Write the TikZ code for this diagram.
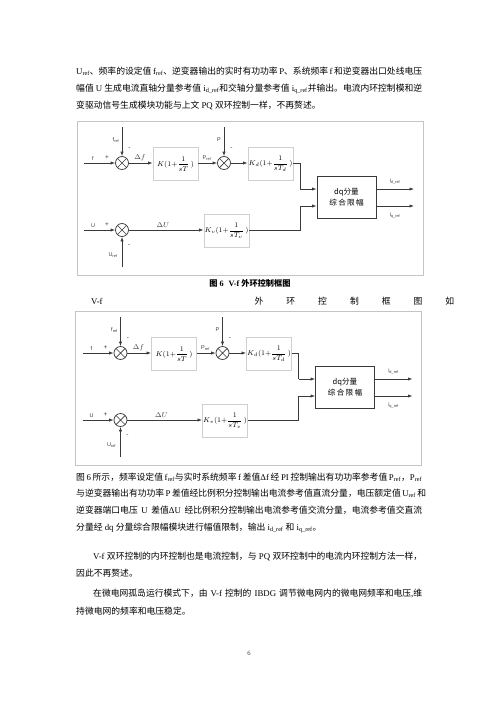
\documentclass[tikz,border=0pt]{standalone}
\usepackage{amsmath}
\usepackage{fontspec}
\setmainfont{Liberation Serif}
\newfontfamily\cjk{Noto Sans CJK SC}
\newfontfamily\lab{Liberation Sans}
\usetikzlibrary{arrows.meta}
\XeTeXlinebreaklocale "zh"
\XeTeXlinebreakskip=0pt plus 3pt
\newcommand\z[1]{{\cjk #1}}
\newcommand\jline[2]{\makebox[#1][s]{#2}}
\definecolor{ln}{HTML}{3A3A3A}
\definecolor{fr}{HTML}{C4C4C4}
\definecolor{bx}{HTML}{CFCFCF}
\tikzset{
  txt/.style={anchor=base west, inner sep=0, font=\fontsize{8.8}{10}\selectfont},
  frm/.style={draw=fr, line width=0.8pt},
  sumnode/.style={circle, draw=ln, line width=0.7pt, minimum size=13pt, inner sep=0pt,
    path picture={\draw[ln, line width=0.7pt] (path picture bounding box.north west) -- (path picture bounding box.south east)
      (path picture bounding box.north east) -- (path picture bounding box.south west);}},
  pibox/.style={draw=bx, line width=0.8pt, minimum width=45pt, minimum height=33pt, inner sep=0pt,
    font=\fontsize{7}{8}\selectfont},
  dqbox/.style={draw=ln, line width=0.7pt, minimum width=59pt, minimum height=42pt, inner sep=0pt,
    align=center, font=\cjk\fontsize{7.6}{11}\selectfont},
  ar/.style={draw=ln, line width=0.7pt, -{Latex[length=4.5pt,width=3.2pt]}},
  con/.style={draw=ln, line width=0.7pt},
  lbl/.style={inner sep=0pt, font=\lab\fontsize{5.5}{6}\selectfont, text=ln},
  sgn/.style={inner sep=0pt, font=\lab\fontsize{6.5}{7}\selectfont, text=ln},
  dlt/.style={inner sep=0pt, font=\fontsize{7}{8}\selectfont\itshape, text=ln}
}
\newcommand\vfdiag[1]{%
  \draw[frm] (77,121) rectangle (423,275);
  \node[sumnode] (#1s1) at (122,163) {};
  \node[sumnode] (#1s2) at (224,163) {};
  \node[sumnode] (#1s3) at (122,230) {};
  \node[pibox] (#1k) at (175.5,164) {$K(1{+}\dfrac{1}{sT}\,)$};
  \node[pibox] (#1kd) at (270.5,164) {$K_d(1{+}\dfrac{1}{sT_d}\,)$};
  \node[pibox] (#1kv) at (226.5,231) {$K_v(1{+}\dfrac{1}{sT_v}\,)$};
  \node[dqbox] (#1dq) at (346.5,197) {dq分量\\综\,合\,限\,幅};
  \coordinate (#1fin) at (84,163);
  \coordinate (#1fr) at (122,127);
  \coordinate (#1pt) at (224,127);
  \coordinate (#1uin) at (84,230);
  \coordinate (#1ur) at (122,267);
  \coordinate (#1ja) at (300,189);
  \coordinate (#1jb) at (300,206);
  \coordinate (#1dqa) at (#1dq.west |- #1ja);
  \coordinate (#1dqb) at (#1dq.west |- #1jb);
  \coordinate (#1oa) at (414,189);
  \coordinate (#1ob) at (414,206);
  \draw[ar] (#1fin) -- (#1s1);
  \draw[ar] (#1fr) -- (#1s1);
  \draw[ar] (#1s1) -- (#1s1 -| #1k.west);
  \draw[ar] (#1s1 -| #1k.east) -- (#1s2);
  \draw[ar] (#1pt) -- (#1s2);
  \draw[ar] (#1s2) -- (#1s2 -| #1kd.west);
  \draw[con] (#1s2 -| #1kd.east) -| (#1ja);
  \draw[ar] (#1ja) -- (#1dqa);
  \draw[ar] (#1uin) -- (#1s3);
  \draw[ar] (#1ur) -- (#1s3);
  \draw[ar] (#1s3) -- (#1s3 -| #1kv.west);
  \draw[con] (#1s3 -| #1kv.east) -| (#1jb);
  \draw[ar] (#1jb) -- (#1dqb);
  \draw[ar] (#1dq.east |- #1oa) -- (#1oa);
  \draw[ar] (#1dq.east |- #1ob) -- (#1ob);
  \node[lbl] (#1lf) at (93,158.5) {f};
  \node[sgn] (#1lp1) at (107,158) {+};
  \node[lbl] (#1lfr) at (116,140) {f\textsubscript{ref}};
  \node[sgn] (#1lm1) at (129.5,149) {-};
  \node[dlt] (#1ldf) at (140,158) {$\Delta f$};
  \node[lbl] (#1lpr) at (207,158) {P\textsubscript{ref}};
  \node[lbl] (#1lP) at (219,140) {P};
  \node[sgn] (#1lm2) at (231.5,149) {-};
  \node[lbl] (#1lU) at (93,225.5) {U};
  \node[sgn] (#1lp3) at (107,225) {+};
  \node[dlt] (#1ldu) at (163,225) {$\Delta U$};
  \node[lbl] (#1lur) at (113,255) {U\textsubscript{ref}};
  \node[sgn] (#1lm3) at (129,246) {-};
  \node[lbl] (#1lid) at (395,181) {i\textsubscript{d\_ref}};
  \node[lbl] (#1liq) at (395,215) {i\textsubscript{q\_ref}};
}
\begin{document}
\begin{tikzpicture}[x=1pt,y=-1pt]
\fill[white] (0,0) rectangle (500,707);
\useasboundingbox (0,0) rectangle (500,707);
% top text
\node[txt] (t1) at (76,74) {\jline{346pt}{U\textsubscript{ref}\z{、频率的设定值} f\textsubscript{ref}\z{、逆变器输出的实时有功功率} P\z{、系统频率} f \z{和逆变器出口处线电压}}};
\node[txt] (t2) at (76,91) {\jline{346pt}{\z{幅值} U \z{生成电流直轴分量参考值} i\textsubscript{d\_ref}\z{和交轴分量参考值} i\textsubscript{q\_ref}\z{并输出。电流内环控制模和逆}}};
\node[txt] (t3) at (76,108) {\z{变驱动信号生成模块功能与上文} PQ \z{双环控制一样，不再赘述。}};
% diagram 1
\begin{scope}
\vfdiag{a}
\end{scope}
\node[inner sep=0, font=\fontsize{8.2}{9}\selectfont\bfseries] (cap) at (250,283) {\z{\bfseries 图} 6\,\, V-f \z{\bfseries 外环控制框图}};
% stretched line
\node[txt] (v1) at (91,304) {V-f};
\foreach \c [count=\i from 0] in {外,环,控,制,框,图,如}{
  \node[inner sep=0, font=\cjk\fontsize{8.8}{10}\selectfont] (vc\i) at (259+31.8*\i,301) {\c};
}
% diagram 2
\begin{scope}[shift={(-1.5,190)}]
\vfdiag{b}
\end{scope}
% bottom text
\node[txt] (b1) at (76,480) {\jline{346pt}{\z{图} 6 \z{所示，频率设定值} f\textsubscript{ref}\z{与实时系统频率} f \z{差值}Δf \z{经} PI \z{控制输出有功功率参考值} P\textsubscript{ref}\z{，}P\textsubscript{ref}}};
\node[txt] (b2) at (76,496) {\jline{346pt}{\z{与逆变器输出有功功率} P \z{差值经比例积分控制输出电流参考值直流分量，电压额定值} U\textsubscript{ref} \z{和}}};
\node[txt] (b3) at (76,513) {\jline{346pt}{\z{逆变器端口电压} U \z{差值}ΔU \z{经比例积分控制输出电流参考值交流分量，电流参考值交直流}}};
\node[txt] (b4) at (76,530) {\z{分量经} dq \z{分量综合限幅模块进行幅值限制，输出} i\textsubscript{d\_ref} \z{和} i\textsubscript{q\_ref}\z{。}};
\node[txt] (b5) at (93,559) {\jline{329pt}{V-f \z{双环控制的内环控制也是电流控制，与} PQ \z{双环控制中的电流内环控制方法一样，}}};
\node[txt] (b6) at (76,576) {\z{因此不再赘述。}};
\node[txt] (b7) at (93,596) {\jline{329pt}{\z{在微电网孤岛运行模式下，由} V-f \z{控制的} IBDG \z{调节微电网内的微电网频率和电压},\z{维}}};
\node[txt] (b8) at (76,614) {\z{持微电网的频率和电压稳定。}};
\node[inner sep=0, font=\fontsize{6.5}{7}\selectfont, text=ln] (pg) at (249,653) {6};
\end{tikzpicture}
\end{document}
